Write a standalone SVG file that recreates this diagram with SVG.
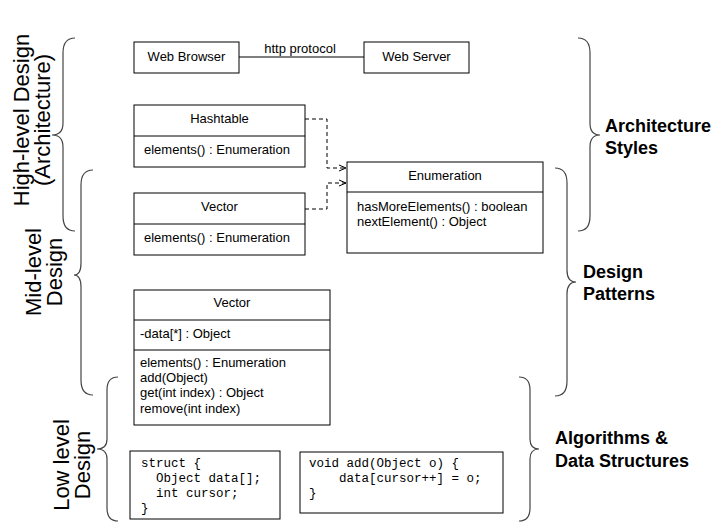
<svg xmlns="http://www.w3.org/2000/svg" width="725" height="528" viewBox="0 0 725 528">
<style>
.b{fill:#fff;stroke:#000;stroke-width:1}
.t{font-family:"Liberation Sans",Arial,sans-serif;font-size:13px;fill:#000}
.m{font-family:"Liberation Mono","Courier New",monospace;font-size:12.5px;fill:#000;white-space:pre}
.br{fill:none;stroke:#444;stroke-width:1.2}
.l{font-family:"Liberation Sans",Arial,sans-serif;font-size:22px;fill:#000;text-anchor:middle}
.r{font-family:"Liberation Sans",Arial,sans-serif;font-size:18px;font-weight:bold;fill:#000}
.c{stroke:#000;fill:none}
.d{stroke:#000;fill:none;stroke-dasharray:4,3}
</style>
<defs><marker id="a" markerWidth="8" markerHeight="8" refX="7" refY="4" orient="auto" markerUnits="userSpaceOnUse"><path d="M0,1 L7,4 L0,7" fill="none" stroke="#000"/></marker></defs>
<rect width="725" height="528" fill="#fff"/>
<g id="braces">
<path class="br" d="M75 38 Q63 38 63 53 L63 123 Q63 135 52 135 Q63 135 63 147 L63 216 Q63 231 75 231"/>
<path class="br" d="M93 170 Q81 170 81 185 L81 263 Q81 275 74 275 Q81 275 81 287 L81 380 Q81 395 93 395"/>
<path class="br" d="M118 377 Q107 377 107 390 L107 439 Q107 449 97 449 Q107 449 107 459 L107 508 Q107 521 118 521"/>
<path class="br" d="M578 38 Q590 38 590 53 L590 123 Q590 135 600 135 Q590 135 590 147 L590 216 Q590 231 578 231"/>
<path class="br" d="M555 168 Q567 168 567 183 L567 270 Q567 282 576 282 Q567 282 567 294 L567 381 Q567 396 555 396"/>
<path class="br" d="M519 377 Q530 377 530 390 L530 439 Q530 449 539 449 Q530 449 530 459 L530 508 Q530 521 519 521"/>
</g>
<g id="labels">
<text class="l" transform="translate(29,120) rotate(-90)">High-level Design</text>
<text class="l" transform="translate(50,120) rotate(-90)">(Architecture)</text>
<text class="l" transform="translate(41,272) rotate(-90)">Mid-level</text>
<text class="l" transform="translate(62,272) rotate(-90)">Design</text>
<text class="l" transform="translate(69,465) rotate(-90)">Low level</text>
<text class="l" transform="translate(90,465) rotate(-90)">Design</text>
<text class="r" x="605" y="132">Architecture</text>
<text class="r" x="605" y="154">Styles</text>
<text class="r" x="583" y="278">Design</text>
<text class="r" x="583" y="300">Patterns</text>
<text class="r" x="555" y="444">Algorithms &amp;</text>
<text class="r" x="555" y="467">Data Structures</text>
</g>
<g id="connectors">
<line class="c" x1="239" y1="57" x2="364" y2="57"/>
<text class="t" x="300" y="53" text-anchor="middle">http protocol</text>
<path class="d" d="M305 119 H327 V168 H346" marker-end="url(#a)"/>
<path class="d" d="M305 209 H327 V183 H346" marker-end="url(#a)"/>
</g>
<g id="webbrowser"><rect class="b" x="134" y="42" width="105" height="31"/><text class="t" x="186.5" y="61" text-anchor="middle">Web Browser</text></g>
<g id="webserver"><rect class="b" x="364" y="42" width="105" height="31"/><text class="t" x="416.5" y="61" text-anchor="middle">Web Server</text></g>
<g id="hashtable"><rect class="b" x="134" y="105" width="171" height="62"/><line class="c" x1="134" y1="136" x2="305" y2="136"/>
<text class="t" x="219.5" y="123" text-anchor="middle">Hashtable</text><text class="t" x="144" y="154">elements() : Enumeration</text></g>
<g id="vector1"><rect class="b" x="134" y="193" width="171" height="62"/><line class="c" x1="134" y1="224" x2="305" y2="224"/>
<text class="t" x="219.5" y="211" text-anchor="middle">Vector</text><text class="t" x="144" y="242">elements() : Enumeration</text></g>
<g id="enumeration"><rect class="b" x="347" y="162" width="196" height="91"/><line class="c" x1="347" y1="192" x2="543" y2="192"/>
<text class="t" x="445" y="180" text-anchor="middle">Enumeration</text>
<text class="t" x="357" y="211">hasMoreElements() : boolean</text><text class="t" x="357" y="226">nextElement() : Object</text></g>
<g id="vector2"><rect class="b" x="134" y="290" width="196" height="135"/><line class="c" x1="134" y1="320" x2="330" y2="320"/><line class="c" x1="134" y1="350" x2="330" y2="350"/>
<text class="t" x="232" y="307" text-anchor="middle">Vector</text>
<text class="t" x="140" y="338">-data[*] : Object</text>
<text class="t" x="140" y="367">elements() : Enumeration</text>
<text class="t" x="140" y="382">add(Object)</text>
<text class="t" x="140" y="397">get(int index) : Object</text>
<text class="t" x="140" y="413">remove(int index)</text></g>
<g id="struct"><rect class="b" x="130" y="451" width="150" height="68"/>
<text class="m" x="141" y="467">struct {</text><text class="m" x="141" y="482">  Object data[];</text><text class="m" x="141" y="497">  int cursor;</text><text class="m" x="141" y="512">}</text></g>
<g id="addcode"><rect class="b" x="300" y="452" width="203" height="61"/>
<text class="m" x="309" y="467">void add(Object o) {</text><text class="m" x="309" y="482">    data[cursor++] = o;</text><text class="m" x="309" y="497">}</text></g>
</svg>
